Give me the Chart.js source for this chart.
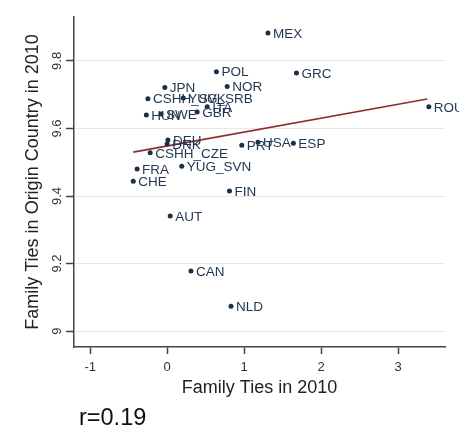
<!DOCTYPE html>
<html>
<head>
<meta charset="utf-8">
<script src="https://cdn.jsdelivr.net/npm/chart.js@4.4.1/dist/chart.umd.min.js"></script>
<style>
  html, body { margin: 0; padding: 0; background: #fff; }
  canvas { display: block; }
</style>
</head>
<body>
<canvas id="scatter-ties" width="459" height="430"></canvas>
<script>
// country codes and values
var countries = ["MEX", "GRC", "ROU", "ESP", "USA", "PRT", "POL", "NOR", "JPN", "CSHH_SVK",
  "YUG_SRB", "ITA", "GBR", "HUN", "SWE", "DEU", "DNK", "CSHH_CZE", "FRA", "CHE",
  "YUG_SVN", "FIN", "AUT", "CAN", "NLD"];
var tiesHere = [1.31, 1.68, 3.40, 1.64, 1.18, 0.97, 0.64, 0.78, -0.03, -0.25,
  0.21, 0.52, 0.39, -0.27, -0.08, 0.01, 0.00, -0.22, -0.39, -0.44,
  0.19, 0.81, 0.04, 0.31, 0.83];
var tiesOrigin = [9.883, 9.764, 9.664, 9.556, 9.559, 9.550, 9.768, 9.724, 9.721, 9.688,
  9.690, 9.664, 9.649, 9.640, 9.643, 9.566, 9.554, 9.528, 9.480, 9.444,
  9.488, 9.415, 9.341, 9.178, 9.074];

// fitted line end points
var fitX = [-0.44, 3.38];
var fitY = [9.530, 9.687];

var xTicks = [-1, 0, 1, 2, 3];
var yTicks = [9, 9.2, 9.4, 9.6, 9.8];

var points = [];
for (var i = 0; i < countries.length; i++) {
  points.push({ x: tiesHere[i], y: tiesOrigin[i] });
}
var fitLine = [];
for (var j = 0; j < fitX.length; j++) {
  fitLine.push({ x: fitX[j], y: fitY[j] });
}

// writes the country code next to each dot
var pointLabels = {
  id: "pointLabels",
  afterDatasetsDraw: function(chart) {
    var ctx = chart.ctx;
    var meta = chart.getDatasetMeta(0);
    ctx.save();
    ctx.font = "13.5px 'Liberation Sans', Arial, sans-serif";
    ctx.fillStyle = "#1f3550";
    ctx.textAlign = "left";
    ctx.textBaseline = "middle";
    for (var k = 0; k < meta.data.length; k++) {
      var el = meta.data[k];
      ctx.fillText(countries[k], el.x + 5, el.y + 1);
    }
    // correlation note under the axis
    ctx.font = "23.5px 'Liberation Sans', Arial, sans-serif";
    ctx.fillStyle = "#111";
    ctx.fillText("r=0.19", 79, 419);
    ctx.restore();
  }
};

var ctx = document.getElementById("scatter-ties");

var data = {
  datasets: [
    {
      type: "scatter",
      data: points,
      backgroundColor: "#1c2f44",
      borderWidth: 0,
      pointRadius: 2.5
    },
    {
      type: "line",
      data: fitLine,
      borderColor: "#8e2c2c",
      borderWidth: 1.6,
      pointRadius: 0,
      fill: false
    }
  ]
};

var options = {
  responsive: false,
  animation: false,
  layout: { padding: { left: 22, right: 14, top: 17, bottom: 31 } },
  plugins: {
    legend: { display: false },
    tooltip: { enabled: false }
  },
  scales: {
    x: {
      type: "linear",
      min: -1.21,
      max: 3.61,
      afterFit: function(scale) { scale.height = 52; },
      afterBuildTicks: function(scale) {
        scale.ticks = xTicks.map(function(v) { return { value: v }; });
      },
      border: { color: "#444", width: 1.5 },
      grid: { drawOnChartArea: false, tickColor: "#444", tickLength: 7, tickWidth: 1.5 },
      ticks: {
        padding: 6,
        color: "#333",
        font: { family: "'Liberation Sans', Arial, sans-serif", size: 13 },
        callback: function(v) { return String(v); }
      },
      title: {
        display: true,
        text: "Family Ties in 2010",
        color: "#222",
        padding: 0,
        font: { family: "'Liberation Sans', Arial, sans-serif", size: 18 }
      }
    },
    y: {
      type: "linear",
      min: 8.953,
      max: 9.93,
      afterFit: function(scale) { scale.width = 52; },
      afterBuildTicks: function(scale) {
        scale.ticks = yTicks.map(function(v) { return { value: v }; });
      },
      border: { color: "#444", width: 1.5 },
      grid: { color: "#e8e8e8", lineWidth: 1, tickColor: "#444", tickLength: 8, tickWidth: 1.5 },
      ticks: {
        padding: 0,
        minRotation: 90,
        maxRotation: 90,
        crossAlign: "center",
        color: "#333",
        font: { family: "'Liberation Sans', Arial, sans-serif", size: 13 },
        callback: function(v) { return String(v); }
      },
      title: {
        display: true,
        text: "Family Ties in Origin Country in 2010",
        color: "#222",
        padding: 0,
        font: { family: "'Liberation Sans', Arial, sans-serif", size: 18 }
      }
    }
  }
};

var chart = new Chart(ctx, {
  type: "scatter",
  data: data,
  options: options,
  plugins: [pointLabels]
});
</script>
</body>
</html>
